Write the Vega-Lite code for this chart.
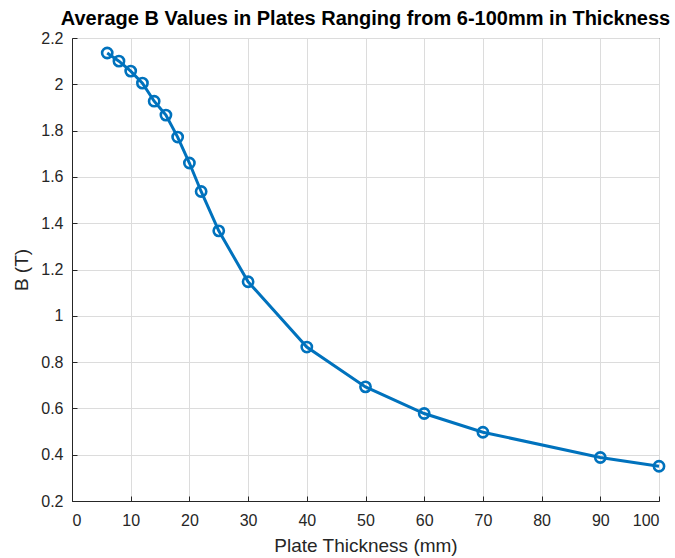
{
  "$schema": "https://vega.github.io/schema/vega-lite/v6.json",
  "autosize": {"type": "none"},
  "width": 587,
  "height": 463,
  "padding": {"left": 72, "top": 38, "right": 16, "bottom": 57},
  "background": "white",
  "title": {
    "text": "Average B Values in Plates Ranging from 6-100mm in Thickness",
    "font": "Liberation Sans",
    "fontSize": 20,
    "fontWeight": "bold",
    "color": "#000000",
    "anchor": "middle",
    "offset": 1
  },
  "config": {
    "view": {"stroke": "#262626", "strokeWidth": 1},
    "axis": {
      "labelFont": "Liberation Sans",
      "titleFont": "Liberation Sans",
      "labelFontSize": 16,
      "titleFontSize": 19,
      "titleFontWeight": "normal",
      "labelColor": "#262626",
      "titleColor": "#262626",
      "domainColor": "#262626",
      "tickColor": "#262626",
      "gridColor": "#dcdcdc",
      "gridWidth": 1,
      "tickSize": -5
    }
  },
  "data": {
    "values": [
      {"t": 6, "b": 2.135},
      {"t": 8, "b": 2.100},
      {"t": 10, "b": 2.057},
      {"t": 12, "b": 2.005},
      {"t": 14, "b": 1.927},
      {"t": 16, "b": 1.867},
      {"t": 18, "b": 1.772},
      {"t": 20, "b": 1.660},
      {"t": 22, "b": 1.537},
      {"t": 25, "b": 1.367},
      {"t": 30, "b": 1.147},
      {"t": 40, "b": 0.865},
      {"t": 50, "b": 0.693},
      {"t": 60, "b": 0.578},
      {"t": 70, "b": 0.497},
      {"t": 90, "b": 0.388},
      {"t": 100, "b": 0.350}
    ]
  },
  "encoding": {
    "x": {
      "field": "t",
      "type": "quantitative",
      "scale": {"domain": [0, 100], "nice": false, "zero": false},
      "axis": {
        "title": "Plate Thickness (mm)",
        "values": [0, 10, 20, 30, 40, 50, 60, 70, 80, 90, 100],
        "format": "d",
        "labelPadding": 16,
        "titlePadding": 8
      }
    },
    "y": {
      "field": "b",
      "type": "quantitative",
      "scale": {"domain": [0.2, 2.2], "nice": false, "zero": false},
      "axis": {
        "title": "B (T)",
        "values": [0.2, 0.4, 0.6, 0.8, 1, 1.2, 1.4, 1.6, 1.8, 2, 2.2],
        "format": ".1~f",
        "labelPadding": 14,
        "titlePadding": 9
      }
    }
  },
  "layer": [
    {
      "mark": {"type": "line", "color": "#0072BD", "strokeWidth": 3}
    },
    {
      "mark": {"type": "point", "shape": "circle", "filled": false, "color": "#0072BD", "strokeWidth": 2.6, "size": 105, "opacity": 1}
    }
  ]
}
